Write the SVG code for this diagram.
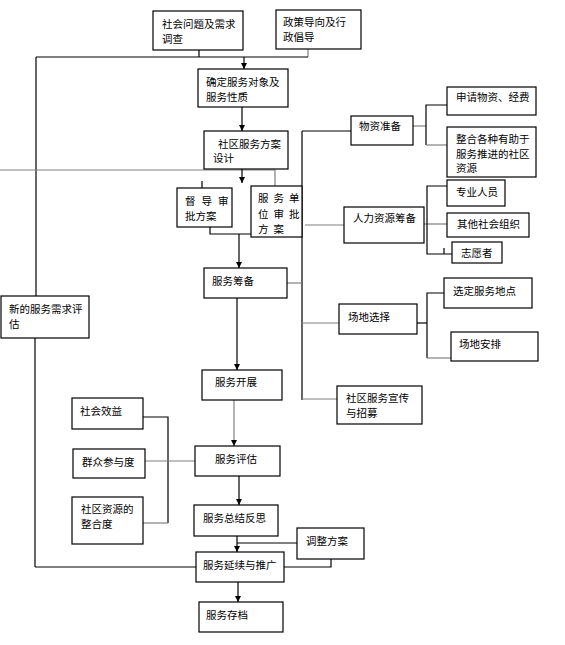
<svg xmlns="http://www.w3.org/2000/svg" width="565" height="645" viewBox="0 0 565 645">
<defs>
<style>
.n rect{fill:#fff;stroke:#000;stroke-width:1.2}
text{font-family:"Noto Sans CJK SC","Liberation Sans",sans-serif;font-size:10.5px;fill:#000}
.c line,.c polyline{stroke:#000;stroke-width:1.2;fill:none}
.c .g{stroke:#808080}
</style>
<marker id="a" viewBox="0 0 6 6" refX="6" refY="3" markerWidth="6" markerHeight="6" orient="auto" markerUnits="userSpaceOnUse">
<path d="M0,0 L6,3 L0,6 Z" fill="#000"/>
</marker>
</defs>
<rect width="565" height="645" fill="#fff"/>
<g class="c">
<line x1="199" y1="50" x2="199" y2="57"/>
<line class="g" x1="308" y1="49" x2="308" y2="57"/>
<line x1="36" y1="57" x2="308" y2="57"/>
<line x1="244" y1="57" x2="244" y2="69" marker-end="url(#a)"/>
<line x1="36" y1="57" x2="36" y2="296"/>
<line x1="35" y1="338" x2="35" y2="567"/>
<line x1="35" y1="567" x2="196" y2="567"/>
<line x1="242" y1="107" x2="242" y2="131" marker-end="url(#a)"/>
<polyline class="g" points="0,170 275,170 275,186"/>
<line x1="242" y1="169" x2="242" y2="183" marker-end="url(#a)"/>
<line x1="202" y1="181" x2="202" y2="188"/>
<polyline points="210,227 210,234 274,234"/>
<line x1="239" y1="234" x2="239" y2="268" marker-end="url(#a)"/>
<line x1="302" y1="131" x2="302" y2="400"/>
<line x1="302" y1="131" x2="351" y2="131"/>
<line class="g" x1="287" y1="283" x2="302" y2="283"/>
<line class="g" x1="305" y1="225" x2="344" y2="225"/>
<line class="g" x1="413" y1="126" x2="426" y2="126"/>
<polyline points="447,105 426,105 426,145"/>
<line class="g" x1="426" y1="145" x2="447" y2="145"/>
<line class="g" x1="424" y1="224" x2="447" y2="224"/>
<polyline points="447,186 427,186 427,254 452,254"/>
<line x1="444" y1="248" x2="444" y2="254"/>
<line class="g" x1="302" y1="323" x2="339" y2="323"/>
<line x1="417" y1="323" x2="427" y2="323"/>
<polyline points="444,293 427,293 427,358"/>
<line class="g" x1="427" y1="358" x2="451" y2="358"/>
<line class="g" x1="302" y1="399" x2="337" y2="399"/>
<line x1="237" y1="298" x2="237" y2="370" marker-end="url(#a)"/>
<line class="g" x1="234" y1="400" x2="234" y2="446" marker-end="url(#a)"/>
<polyline points="143,417 168,417 168,523"/>
<line class="g" x1="143" y1="523" x2="168" y2="523"/>
<line class="g" x1="145" y1="461" x2="195" y2="461"/>
<line x1="239" y1="476" x2="239" y2="505" marker-end="url(#a)"/>
<line x1="237" y1="536" x2="237" y2="552" marker-end="url(#a)"/>
<line x1="237" y1="543" x2="297" y2="543"/>
<polyline points="331,559 331,567 284,567"/>
<line x1="238" y1="582" x2="238" y2="602" marker-end="url(#a)"/>
</g>
<g class="n" id="n1"><rect x="153" y="11" width="90" height="39"/><text x="162" y="28">社会问题及需求</text><text x="162" y="43">调查</text></g>
<g class="n" id="n2"><rect x="276" y="10" width="85" height="39"/><text x="283" y="26">政策导向及行</text><text x="283" y="41">政倡导</text></g>
<g class="n" id="n3"><rect x="198" y="69" width="90" height="38"/><text x="206" y="86">确定服务对象及</text><text x="206" y="101">服务性质</text></g>
<g class="n" id="n4"><rect x="204" y="131" width="84" height="38"/><text x="218" y="148">社区服务方案</text><text x="213" y="162">设计</text></g>
<g class="n" id="n5"><rect x="177" y="188" width="55" height="39"/><text x="185" y="205" letter-spacing="6">督导审</text><text x="185" y="220">批方案</text></g>
<g class="n" id="n6"><rect x="251" y="186" width="51" height="51"/><text x="258" y="202" letter-spacing="5">服务单</text><text x="258" y="218" letter-spacing="5">位审批</text><text x="258" y="233" letter-spacing="5">方案</text></g>
<g class="n" id="n7"><rect x="351" y="116" width="62" height="29"/><text x="359" y="130">物资准备</text></g>
<g class="n" id="n8"><rect x="447" y="87" width="89" height="28"/><text x="456" y="101">申请物资、经费</text></g>
<g class="n" id="n9"><rect x="447" y="127" width="89" height="50"/><text x="456" y="143">整合各种有助于</text><text x="456" y="158">服务推进的社区</text><text x="456" y="172">资源</text></g>
<g class="n" id="n10"><rect x="344" y="207" width="80" height="36"/><text x="353" y="222">人力资源筹备</text></g>
<g class="n" id="n11"><rect x="447" y="180" width="58" height="26"/><text x="456" y="196">专业人员</text></g>
<g class="n" id="n12"><rect x="447" y="213" width="82" height="24"/><text x="457" y="228">其他社会组织</text></g>
<g class="n" id="n13"><rect x="452" y="242" width="50" height="21"/><text x="461" y="257">志愿者</text></g>
<g class="n" id="n14"><rect x="204" y="268" width="83" height="30"/><text x="212" y="285">服务筹备</text></g>
<g class="n" id="n15"><rect x="339" y="304" width="78" height="30"/><text x="348" y="321">场地选择</text></g>
<g class="n" id="n16"><rect x="444" y="278" width="88" height="30"/><text x="453" y="295">选定服务地点</text></g>
<g class="n" id="n17"><rect x="451" y="332" width="87" height="29"/><text x="459" y="348">场地安排</text></g>
<g class="n" id="n18"><rect x="337" y="386" width="85" height="38"/><text x="346" y="402">社区服务宣传</text><text x="346" y="417">与招募</text></g>
<g class="n" id="n19"><rect x="1" y="296" width="88" height="42"/><text x="9" y="313">新的服务需求评</text><text x="9" y="328">估</text></g>
<g class="n" id="n20"><rect x="202" y="370" width="80" height="30"/><text x="215" y="386">服务开展</text></g>
<g class="n" id="n21"><rect x="72" y="398" width="71" height="31"/><text x="80" y="415">社会效益</text></g>
<g class="n" id="n22"><rect x="73" y="449" width="72" height="29"/><text x="82" y="466">群众参与度</text></g>
<g class="n" id="n23"><rect x="72" y="497" width="71" height="47"/><text x="81" y="513">社区资源的</text><text x="81" y="528">整合度</text></g>
<g class="n" id="n24"><rect x="195" y="446" width="85" height="30"/><text x="215" y="463">服务评估</text></g>
<g class="n" id="n25"><rect x="194" y="505" width="84" height="31"/><text x="203" y="522">服务总结反思</text></g>
<g class="n" id="n26"><rect x="297" y="528" width="67" height="31"/><text x="306" y="545">调整方案</text></g>
<g class="n" id="n27"><rect x="196" y="552" width="88" height="30"/><text x="203" y="569">服务延续与推广</text></g>
<g class="n" id="n28"><rect x="199" y="602" width="84" height="30"/><text x="206" y="619">服务存档</text></g>
</svg>
